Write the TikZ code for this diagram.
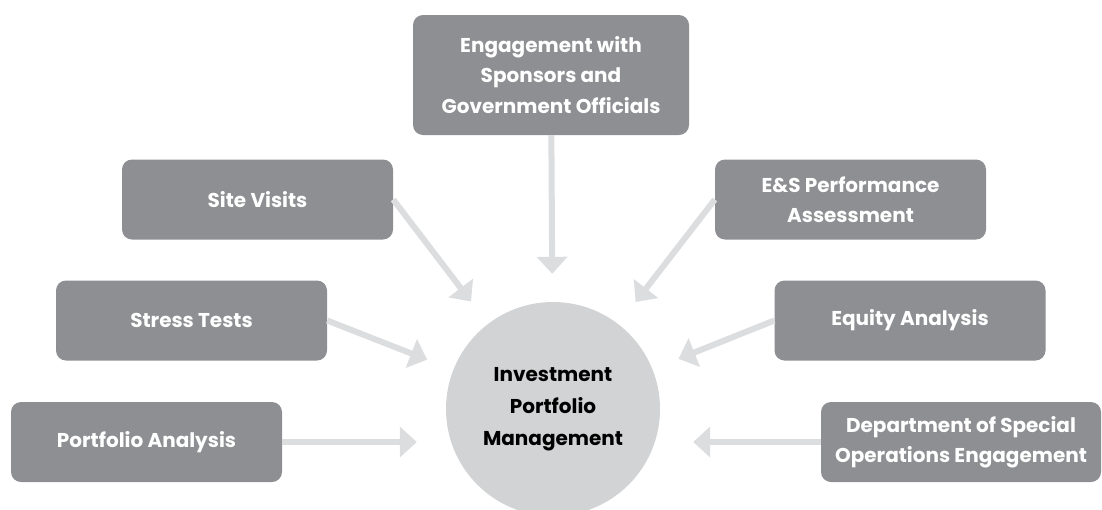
\documentclass[tikz,border=0pt]{standalone}
\usepackage{fontspec}
\setmainfont{Poppins}
\usetikzlibrary{arrows.meta,positioning}
\definecolor{boxgray}{HTML}{8E8F92}
\definecolor{arrowgray}{HTML}{DCDDDF}
\definecolor{hubgray}{HTML}{D1D3D4}
\tikzset{
  basic/.style  = {rectangle, rounded corners=10pt, fill=boxgray, text=white,
                   font=\fontsize{20}{30.5}\selectfont\bfseries, align=center,
                   inner sep=0pt},
  task/.style   = {basic, minimum width=271pt, minimum height=80pt},
  hub/.style    = {circle, fill=hubgray, minimum size=214pt, inner sep=0pt,
                   font=\fontsize{20}{32}\selectfont\bfseries, align=center},
  feed/.style   = {-{Triangle[width=30pt,length=17pt]}, line width=6pt,
                   draw=arrowgray, shorten >=28pt}
}

\begin{document}
\begin{tikzpicture}[x=1pt,y=-1pt]
  \useasboundingbox (0,0) rectangle (1102,509);

  % centre of the picture
  \node[hub] (ipm) at (553,409) {Investment\\Portfolio\\Management};

  % boxes round it, left side
  \node[task] (site)   at (257.5,199.5) {Site Visits};
  \node[task] (stress) at (191.5,320.5) {Stress Tests};
  \node[task] (port)   at (146.5,442)   {Portfolio Analysis};

  % top and right side
  \node[task, minimum width=276pt, minimum height=120pt] (spons) at (551,75)
    {Engagement with\\Sponsors and\\Government Officials};
  \node[task] (es)     at (850.5,199.5) {E\&S Performance\\Assessment};
  \node[task] (equity) at (910,320.5)   {Equity Analysis};
  \node[task, minimum width=280pt] (dso) at (961,442)
    {Department of Special\\Operations Engagement};

  % arrows into the centre
  \draw[feed] (spons) -- (ipm);
  \foreach \from in {site,stress}
    \draw[feed] (\from.east) -- (ipm);
  \foreach \from in {es,equity}
    \draw[feed] (\from.west) -- (ipm);
  \draw[feed, shorten >=29pt] (port.east) -- (port.east -| ipm.west);
  \draw[feed, shorten >=33pt] (dso.west) -- (dso.west -| ipm.east);

\end{tikzpicture}
\end{document}
